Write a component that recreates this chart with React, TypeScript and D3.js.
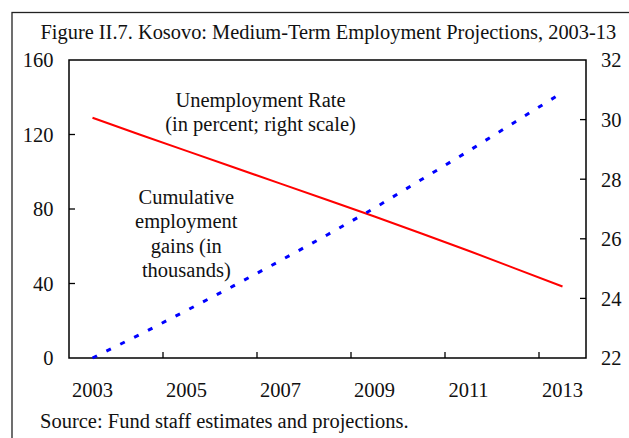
import React from "react";
import * as d3 from "d3";

const years = [2003, 2004, 2005, 2006, 2007, 2008, 2009, 2010, 2011, 2012, 2013];
const employmentGains = [0, 12.5, 25.5, 38.7, 52.3, 66.2, 80.5, 95.8, 111.1, 126.9, 142.6];
const unemploymentRate = [30.06, 29.5, 28.95, 28.4, 27.85, 27.3, 26.75, 26.18, 25.6, 25.0, 24.4];
const leftTicks = [0, 40, 80, 120, 160];
const rightTicks = [22, 24, 26, 28, 30, 32];
const xLabelYears = [2003, 2005, 2007, 2009, 2011, 2013];
const title = "Figure II.7. Kosovo: Medium-Term Employment Projections, 2003-13";
const source = "Source: Fund staff estimates and projections.";
const unempLabel = ["Unemployment Rate", "(in percent; right scale)"];
const empLabel = ["Cumulative", "employment", "gains (in", "thousands)"];

const W = 629, H = 438;
const L = 69, R = 586, T = 60, B = 358;
const FONT = "Liberation Serif, Times New Roman, serif";
const FS = 20.5;

export default function App() {
  const x = d3.scaleBand<number>().domain(years).range([L, R]).padding(0);
  const cx = (yr: number) => (x(yr) as number) + x.bandwidth() / 2;
  const yL = d3.scaleLinear().domain([0, 160]).range([B, T]);
  const yR = d3.scaleLinear().domain([22, 32]).range([B, T]);

  const blueLine = d3.line<number>().x((_, i) => cx(years[i])).y((d) => yL(d))(employmentGains) as string;
  const redLine = d3.line<number>().x((_, i) => cx(years[i])).y((d) => yR(d))(unemploymentRate) as string;

  const bottomTickYears = [2005, 2007, 2009, 2011, 2013];

  return (
    <svg width={W} height={H} style={{ position: "absolute", left: 0, top: 0, background: "#fff", fontFamily: FONT }}>
      <rect x={0} y={0} width={W} height={H} fill="#fff" />
      <rect x={12} y={12.5} width={W + 20} height={H + 20} fill="none" stroke="#222" strokeWidth={1.3} />
      <text x={40.5} y={39} fontSize={20.4} fill="#111">{title}</text>

      <rect x={L} y={T} width={R - L} height={B - T} fill="none" stroke="#000" strokeWidth={1.5} />

      {leftTicks.map((t) => (
        <g key={"l" + t}>
          {t > 0 && t < 160 && <line x1={L} x2={L + 6} y1={yL(t)} y2={yL(t)} stroke="#000" strokeWidth={1.3} />}
          <text x={53.5} y={yL(t)} dy="0.36em" textAnchor="end" fontSize={FS} fill="#111">{t}</text>
        </g>
      ))}

      {rightTicks.map((t) => (
        <g key={"r" + t}>
          {t > 22 && t < 32 && <line x1={R - 6} x2={R} y1={yR(t)} y2={yR(t)} stroke="#000" strokeWidth={1.3} />}
          <text x={601} y={yR(t)} dy="0.36em" textAnchor="start" fontSize={FS} fill="#111">{t}</text>
        </g>
      ))}

      {bottomTickYears.map((yr) => (
        <line key={"b" + yr} x1={x(yr) as number} x2={x(yr) as number} y1={B} y2={B - 6} stroke="#000" strokeWidth={1.3} />
      ))}
      {xLabelYears.map((yr) => (
        <text key={"x" + yr} x={cx(yr)} y={396.5} textAnchor="middle" fontSize={FS} fill="#111">{yr}</text>
      ))}

      <path d={redLine} fill="none" stroke="#ff0000" strokeWidth={2} />
      <path d={blueLine} fill="none" stroke="#0000ff" strokeWidth={3} strokeDasharray="5,10.5" />

      {unempLabel.map((s, i) => (
        <text key={"u" + i} x={260.5} y={106.5 + i * 24.5} textAnchor="middle" fontSize={FS} fill="#111">{s}</text>
      ))}
      {empLabel.map((s, i) => (
        <text key={"e" + i} x={186.3} y={203.5 + i * 24.6} textAnchor="middle" fontSize={FS} fill="#111">{s}</text>
      ))}

      <text x={40} y={428} fontSize={FS} fill="#111">{source}</text>
    </svg>
  );
}
